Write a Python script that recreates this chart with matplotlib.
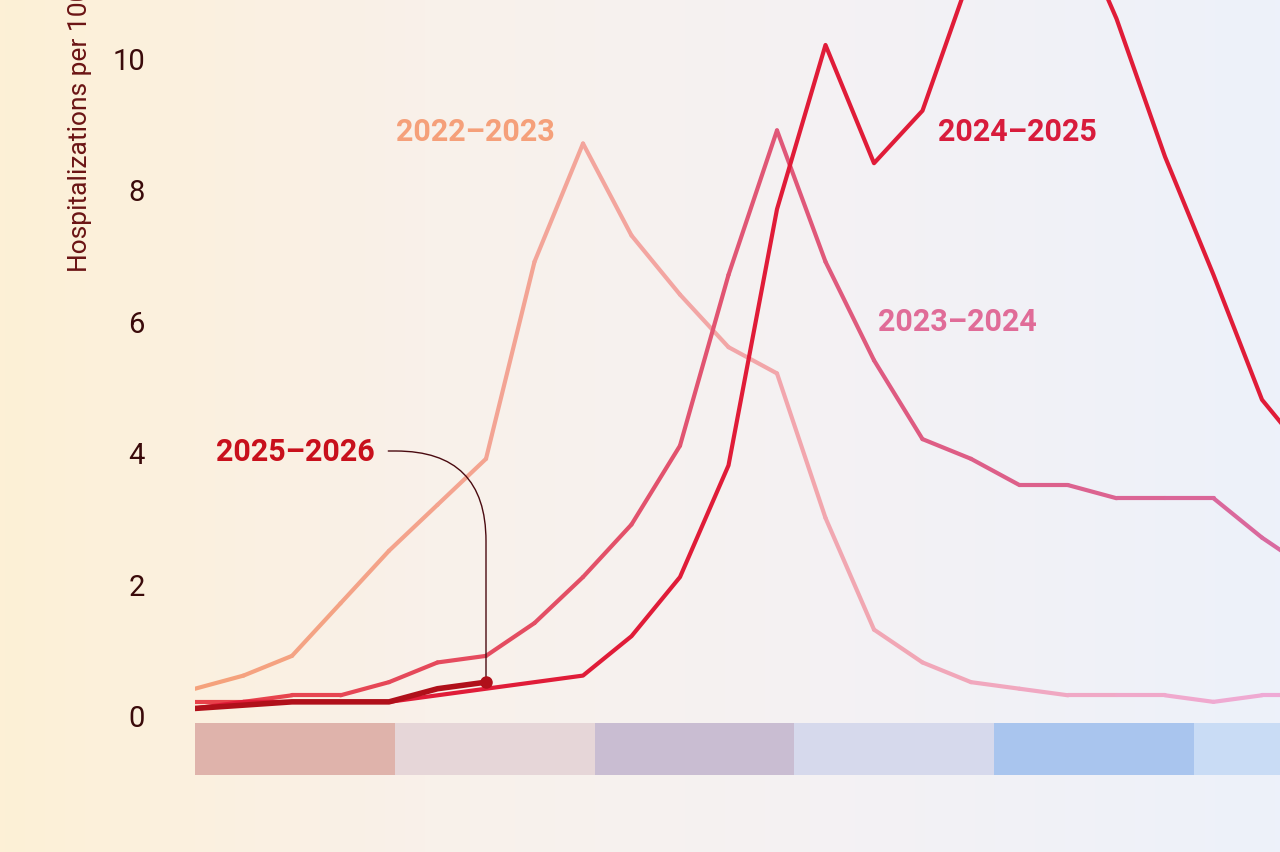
import numpy as np
import matplotlib.pyplot as plt
from matplotlib.collections import LineCollection
from matplotlib.colors import LinearSegmentedColormap, to_rgb
import matplotlib.transforms as mtransforms

plt.rcParams['font.family'] = ['Roboto', 'DejaVu Sans']

s2022 = [0.4,0.6,0.9,1.7,2.5,3.2,3.9,6.9,8.7,7.3,6.4,5.6,5.2,3.0,1.3,0.8,0.5,0.4,0.3,0.3,0.3,0.2,0.3,0.3]
s2023 = [0.2,0.2,0.3,0.3,0.5,0.8,0.9,1.4,2.1,2.9,4.1,6.7,8.9,6.9,5.4,4.2,3.9,3.5,3.5,3.3,3.3,3.3,2.7,2.2]
s2024 = [0.1,0.2,0.2,0.2,0.2,0.3,0.4,0.5,0.6,1.2,2.1,3.8,7.7,10.2,8.4,9.2,11.3,12.5,12.3,10.6,8.5,6.7,4.8,3.9]
s2025 = [0.1,0.15,0.2,0.2,0.2,0.4,0.5]
months = ['October','November','December','January','February','March']
month_colors = ['#dfb3ab','#e6d6d8','#c9bdd2','#d6d9ec','#a9c5ee','#c9dcf5']
month_len = 4.12

fig = plt.figure(figsize=(12.8, 8.53), dpi=100)
bg = fig.add_axes([0, 0, 1, 1], zorder=-10)
cmap_bg = LinearSegmentedColormap.from_list('bg', ['#fdf0d6', '#f9f1ea', '#f4f1f4', '#edf1fa'])
bg.imshow(np.linspace(0, 1, 256)[None, :], cmap=cmap_bg, aspect='auto', extent=[0, 1, 0, 1])
bg.axis('off')

W, H = 1280, 853
ax = fig.add_axes([195/W, (H-716)/H, 1-195/W, 716/H])
ax.set_facecolor('none')
ax.set_xlim(0, (1280-195)/48.5)
ax.set_ylim(0, 10.9)
for sp in ax.spines.values():
    sp.set_visible(False)
ax.set_xticks([])
ax.set_yticks([0, 2, 4, 6, 8, 10])
ax.tick_params(axis='y', length=0, labelsize=21, labelcolor='#3a0a0a', pad=36)
ax.set_ylabel('Hospitalizations per 100,000', fontsize=19, color='#6b1414')
ax.yaxis.label.set_ha('left')
ax.yaxis.set_label_coords(-0.095, 1 - 272/716)

def grad_line(vals, ca, cb, lw, z):
    x = np.arange(len(vals))
    pts = np.column_stack([x, vals])
    segs = np.stack([pts[:-1], pts[1:]], axis=1)
    cmap = LinearSegmentedColormap.from_list('g', [ca, cb])
    lc = LineCollection(segs, colors=cmap(np.linspace(0, 1, len(segs))), linewidths=lw, zorder=z,
                        capstyle='round', joinstyle='round')
    ax.add_collection(lc)

grad_line(s2022, '#f5a27c', '#efaad6', 3, 2)
grad_line(s2023, '#e8424a', '#d96aa0', 3, 3)
ax.plot(range(len(s2024)), s2024, color='#e01c38', lw=3, zorder=4)
ax.plot(range(len(s2025)), s2025, color='#b0101a', lw=4, zorder=5, solid_capstyle='round')
ax.plot(len(s2025)-1, s2025[-1], 'o', color='#b0101a', ms=8, zorder=6)

tr = mtransforms.blended_transform_factory(ax.transData, ax.transAxes)
bh = 52/716
for i, (m, c) in enumerate(zip(months, month_colors)):
    ax.add_patch(plt.Rectangle((i*month_len, -8/716 - bh), month_len, bh, transform=tr,
                               color=c, clip_on=False, lw=0))
    ax.text((i+0.5)*month_len, -8/716 - bh/2, m, transform=tr, ha='center', va='center',
            fontsize=21, color='#2a1020' if i < 3 else '#10204a', clip_on=True)

def px2d(px, py):
    return ax.transData.inverted().transform(fig.transFigure.transform((px/W, 1-py/H)))

for txt, (px, py), col in [('2022–2023', (475, 132), '#f5a07a'), ('2024–2025', (1017, 132), '#d81c3c'),
                           ('2023–2024', (957, 322), '#e06c98')]:
    x, y = px2d(px, py)
    ax.text(x, y, txt, color=col, fontsize=22, fontweight='bold', ha='center', va='center')
x, y = px2d(295, 452)
ax.annotate('2025–2026', xy=(len(s2025)-1, s2025[-1]), xytext=(x, y), color='#c8101c', fontsize=22,
            fontweight='bold', ha='center', va='center',
            arrowprops=dict(arrowstyle='-', color='#4a0a10', lw=1,
                            connectionstyle='angle,angleA=0,angleB=90,rad=90', shrinkA=8, shrinkB=2))

fig.savefig('out.png', dpi=100)
